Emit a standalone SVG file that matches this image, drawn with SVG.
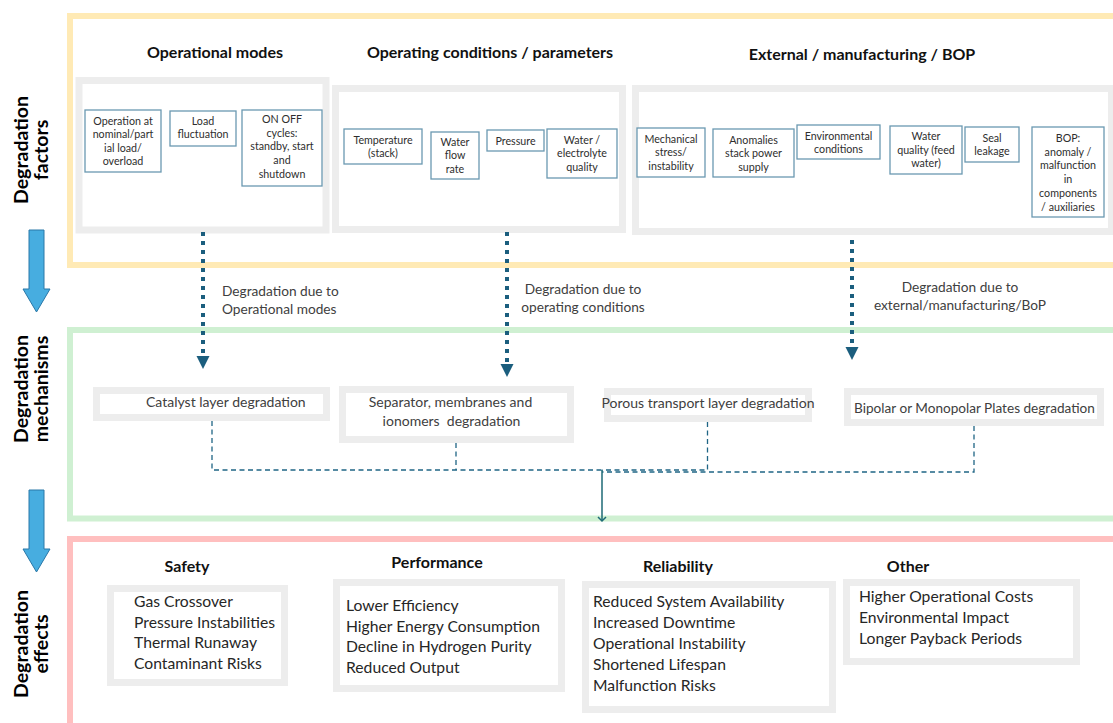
<svg xmlns="http://www.w3.org/2000/svg" width="1113" height="723" viewBox="0 0 1113 723">
  <style>
    text { font-family: Lato, "Liberation Sans", sans-serif; }
    .frame { fill: none; stroke-width: 6; }
    .panel { fill: #ffffff; stroke: #EDEDED; stroke-width: 7; }
    .fbox { fill: #ffffff; stroke: #6A99B1; stroke-width: 1.3; }
    .ft { font-size: 10.7px; fill: #2E2E2E; text-anchor: middle; }
    .head { font-size: 16px; font-weight: bold; fill: #111111; text-anchor: middle; }
    .side { font-size: 19.5px; font-weight: bold; fill: #000000; text-anchor: middle; }
    .note { font-size: 13.7px; fill: #404040; }
    .mech { font-size: 14px; fill: #404040; }
    .eff { font-size: 15.7px; fill: #262626; }
    .dots { fill: none; stroke: #1B5E7E; stroke-width: 4; stroke-dasharray: 4 5; }
    .dash { fill: none; stroke: #1F6585; stroke-width: 1.3; stroke-dasharray: 5 3.5; }
    .bigarrow { fill: #47ADE0; stroke: #2A78A8; stroke-width: 1; }
  </style>
  <defs>
    <marker id="chev" markerWidth="10" markerHeight="10" refX="5" refY="5" orient="auto" markerUnits="userSpaceOnUse">
      <path d="M1,1 L5,5 L1,9" fill="none" stroke="#1E6A76" stroke-width="1.5"/>
    </marker>
  </defs>

  <rect width="1113" height="723" fill="#ffffff"/>

  <!-- stage frames -->
  <g id="frames">
    <rect class="frame" x="70" y="16" width="1060" height="249" stroke="#FFEAB5"/>
    <rect class="frame" x="70" y="330" width="1060" height="188.5" stroke="#CFF0D2"/>
    <rect class="frame" x="70" y="539" width="1060" height="200" stroke="#FFBFBF"/>
  </g>

  <!-- side labels and stage arrows -->
  <g id="side-labels">
    <text class="side" transform="translate(28,150) rotate(-90)"><tspan x="0" y="0">Degradation</tspan><tspan x="0" y="19.5">factors</tspan></text>
    <text class="side" transform="translate(28,389) rotate(-90)"><tspan x="0" y="0">Degradation</tspan><tspan x="0" y="19.5">mechanisms</tspan></text>
    <text class="side" transform="translate(28,644) rotate(-90)"><tspan x="0" y="0">Degradation</tspan><tspan x="0" y="19.5">effects</tspan></text>
  </g>
  <g id="stage-arrow-1">
    <path class="bigarrow" d="M29,230 H44 V289 H50 L36.5,312 L23,289 H29 Z"/>
  </g>
  <g id="stage-arrow-2">
    <path class="bigarrow" d="M29,490 H44 V549 H50 L36.5,572 L23,549 H29 Z"/>
  </g>

  <!-- factor headings -->
  <g id="heading-operational">
    <text class="head" x="215" y="58">Operational modes</text>
  </g>
  <g id="heading-conditions">
    <text class="head" x="490" y="58">Operating conditions / parameters</text>
  </g>
  <g id="heading-external">
    <text class="head" x="862" y="60">External / manufacturing / BOP</text>
  </g>

  <!-- factor panels -->
  <g id="panel-operational"><rect class="panel" x="79" y="80.5" width="247" height="149.5"/></g>
  <g id="panel-conditions"><rect class="panel" x="335.5" y="88.5" width="287" height="141"/></g>
  <g id="panel-external"><rect class="panel" x="635.5" y="88.5" width="476" height="143"/></g>

  <!-- operational modes -->
  <g id="f-load-level">
    <rect class="fbox" x="85" y="110" width="76" height="62"/>
    <text class="ft"><tspan x="123" y="124.5">Operation at</tspan><tspan x="123" y="138">nominal/part</tspan><tspan x="123" y="151.5">ial load/</tspan><tspan x="123" y="165">overload</tspan></text>
  </g>
  <g id="f-load-fluct">
    <rect class="fbox" x="170" y="111" width="66" height="35"/>
    <text class="ft"><tspan x="203" y="124.5">Load</tspan><tspan x="203" y="138">fluctuation</tspan></text>
  </g>
  <g id="f-onoff">
    <rect class="fbox" x="242" y="110" width="80" height="76"/>
    <text class="ft"><tspan x="282" y="122.5">ON OFF</tspan><tspan x="282" y="136.5">cycles:</tspan><tspan x="282" y="150">standby, start</tspan><tspan x="282" y="164">and</tspan><tspan x="282" y="178">shutdown</tspan></text>
  </g>

  <!-- operating conditions -->
  <g id="f-temperature">
    <rect class="fbox" x="344" y="129" width="78" height="35"/>
    <text class="ft"><tspan x="383" y="143.5">Temperature</tspan><tspan x="383" y="157">(stack)</tspan></text>
  </g>
  <g id="f-flow">
    <rect class="fbox" x="431" y="132" width="48" height="47"/>
    <text class="ft"><tspan x="455" y="145.5">Water</tspan><tspan x="455" y="159">flow</tspan><tspan x="455" y="172.5">rate</tspan></text>
  </g>
  <g id="f-pressure">
    <rect class="fbox" x="487" y="130" width="57" height="21"/>
    <text class="ft"><tspan x="515.5" y="144.5">Pressure</tspan></text>
  </g>
  <g id="f-electrolyte">
    <rect class="fbox" x="547" y="129" width="70" height="49"/>
    <text class="ft"><tspan x="582" y="143.5">Water /</tspan><tspan x="582" y="157">electrolyte</tspan><tspan x="582" y="170.5">quality</tspan></text>
  </g>

  <!-- external / manufacturing / BOP -->
  <g id="f-mechanical">
    <rect class="fbox" x="637" y="128" width="68" height="49"/>
    <text class="ft"><tspan x="671" y="142.5">Mechanical</tspan><tspan x="671" y="156">stress/</tspan><tspan x="671" y="169.5">instability</tspan></text>
  </g>
  <g id="f-power">
    <rect class="fbox" x="713" y="129" width="81" height="48"/>
    <text class="ft"><tspan x="753.5" y="143.5">Anomalies</tspan><tspan x="753.5" y="157">stack power</tspan><tspan x="753.5" y="170.5">supply</tspan></text>
  </g>
  <g id="f-environment">
    <rect class="fbox" x="797" y="125" width="83" height="34"/>
    <text class="ft"><tspan x="838.5" y="139.5">Environmental</tspan><tspan x="838.5" y="153">conditions</tspan></text>
  </g>
  <g id="f-feedwater">
    <rect class="fbox" x="890" y="126" width="72" height="48"/>
    <text class="ft"><tspan x="926" y="139.5">Water</tspan><tspan x="926" y="153.5">quality (feed</tspan><tspan x="926" y="167">water)</tspan></text>
  </g>
  <g id="f-seal">
    <rect class="fbox" x="965" y="127" width="54" height="35"/>
    <text class="ft"><tspan x="992" y="141.5">Seal</tspan><tspan x="992" y="155">leakage</tspan></text>
  </g>
  <g id="f-bop">
    <rect class="fbox" x="1032" y="127" width="72" height="90"/>
    <text class="ft"><tspan x="1068" y="141.5">BOP:</tspan><tspan x="1068" y="155.5">anomaly /</tspan><tspan x="1068" y="169">malfunction</tspan><tspan x="1068" y="183">in</tspan><tspan x="1068" y="196.5">components</tspan><tspan x="1068" y="210.5">/ auxiliaries</tspan></text>
  </g>

  <!-- degradation mechanisms -->
  <g id="m-catalyst">
    <rect class="panel" x="96.5" y="390.5" width="230" height="27"/>
    <text class="mech" x="146" y="407">Catalyst layer degradation</text>
  </g>
  <g id="m-separator">
    <rect class="panel" x="342.5" y="389.5" width="228" height="50"/>
    <text class="mech" text-anchor="middle"><tspan x="450.5" y="407">Separator, membranes and</tspan><tspan x="451.5" y="426">ionomers&#160; degradation</tspan></text>
  </g>
  <g id="m-porous">
    <rect class="panel" x="607.5" y="391.5" width="201" height="27"/>
    <text class="mech" x="708" y="408" text-anchor="middle">Porous transport layer degradation</text>
  </g>
  <g id="m-plates">
    <rect class="panel" x="847.5" y="391.5" width="253" height="31"/>
    <text class="mech" x="974.5" y="413" text-anchor="middle" style="font-size:13.6px">Bipolar or Monopolar Plates degradation</text>
  </g>

  <!-- degradation effects -->
  <g id="e-safety">
    <text class="head" x="187" y="572">Safety</text>
    <rect class="panel" x="110.5" y="588.5" width="174" height="94"/>
    <text class="eff"><tspan x="134" y="607">Gas Crossover</tspan><tspan x="134" y="628">Pressure Instabilities</tspan><tspan x="134" y="648">Thermal Runaway</tspan><tspan x="134" y="669">Contaminant Risks</tspan></text>
  </g>
  <g id="e-performance">
    <text class="head" x="437" y="568">Performance</text>
    <rect class="panel" x="336.5" y="582.5" width="225" height="106"/>
    <text class="eff"><tspan x="346" y="611">Lower Efficiency</tspan><tspan x="346" y="632">Higher Energy Consumption</tspan><tspan x="346" y="652">Decline in Hydrogen Purity</tspan><tspan x="346" y="673">Reduced Output</tspan></text>
  </g>
  <g id="e-reliability">
    <text class="head" x="678" y="572">Reliability</text>
    <rect class="panel" x="585.5" y="584.5" width="247" height="125"/>
    <text class="eff"><tspan x="593" y="607">Reduced System Availability</tspan><tspan x="593" y="628">Increased Downtime</tspan><tspan x="593" y="649">Operational Instability</tspan><tspan x="593" y="670">Shortened Lifespan</tspan><tspan x="593" y="691">Malfunction Risks</tspan></text>
  </g>
  <g id="e-other">
    <text class="head" x="908" y="572">Other</text>
    <rect class="panel" x="846.5" y="582.5" width="230" height="79"/>
    <text class="eff"><tspan x="859" y="602">Higher Operational Costs</tspan><tspan x="859" y="623">Environmental Impact</tspan><tspan x="859" y="644">Longer Payback Periods</tspan></text>
  </g>

  <!-- connectors -->
  <g id="connectors">
    <line class="dots" x1="203" y1="232" x2="203" y2="357"/>
    <path d="M196.5,356 H209.5 L203,369 Z" fill="#1B5E7E"/>
    <text class="note"><tspan x="222" y="296">Degradation due to</tspan><tspan x="222" y="314">Operational modes</tspan></text>

    <line class="dots" x1="507" y1="232" x2="507" y2="365"/>
    <path d="M500.5,364 H513.5 L507,377 Z" fill="#1B5E7E"/>
    <text class="note" text-anchor="middle"><tspan x="583" y="294">Degradation due to</tspan><tspan x="583" y="312">operating conditions</tspan></text>

    <line class="dots" x1="852" y1="240" x2="852" y2="348"/>
    <path d="M845.5,347 H858.5 L852,360 Z" fill="#1B5E7E"/>
    <text class="note" text-anchor="middle"><tspan x="960" y="292">Degradation due to</tspan><tspan x="960" y="310">external/manufacturing/BoP</tspan></text>

    <path class="dash" d="M212,421 V470 H602"/>
    <path class="dash" d="M456,443 V470"/>
    <path class="dash" d="M707.5,422 V470 H602"/>
    <path class="dash" d="M974,426 V472 H602"/>
    <line x1="602" y1="470" x2="602" y2="521" stroke="#1E6A76" stroke-width="1.5" marker-end="url(#chev)"/>
  </g>
</svg>
